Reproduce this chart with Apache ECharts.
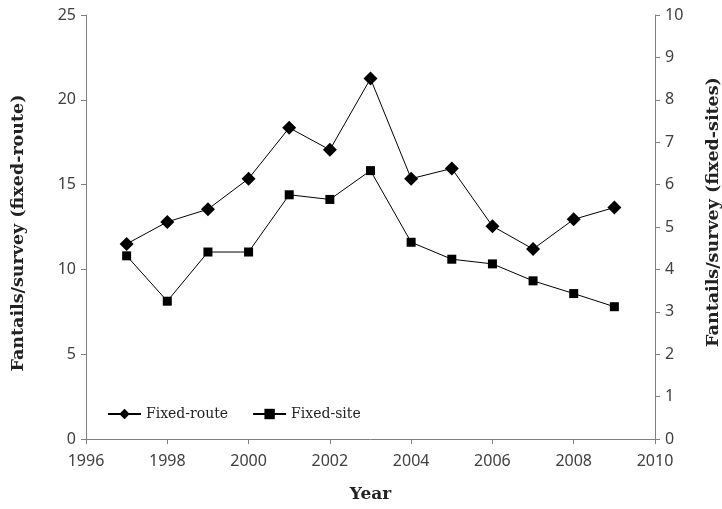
<!DOCTYPE html>
<html><head><meta charset="utf-8">
<script src="https://cdn.jsdelivr.net/npm/echarts@6/dist/echarts.min.js"></script>
<style>html,body{margin:0;padding:0;background:#fff}#c{width:722px;height:509px}</style>
</head><body><div id="c"></div>
<script>
const years = [1997,1998,1999,2000,2001,2002,2003,2004,2005,2006,2007,2008,2009];
const fixedRoute = [11.5,12.8,13.55,15.35,18.35,17.05,21.25,15.35,15.95,12.55,11.2,12.95,13.65];
const fixedSite = [4.32,3.25,4.41,4.41,5.76,5.65,6.33,4.64,4.24,4.13,3.73,3.43,3.12];
const xTicks = [1996,1998,2000,2002,2004,2006,2008,2010];
const leftTicks = [0,5,10,15,20,25];
const rightTicks = [0,1,2,3,4,5,6,7,8,9,10];

const axisLine = {show:true,lineStyle:{color:'#808080',width:1}};
const tickFont = {fontFamily:'Noto Sans',fontSize:16,color:'#404040'};
const titleBase = {fontFamily:'DejaVu Serif',fontWeight:'bold',color:'#222'};

const chart = echarts.init(document.getElementById('c'));
chart.setOption({
  animation:false,
  backgroundColor:'#fff',
  grid:{left:86,right:67,top:15,bottom:70,outerBoundsMode:'none',containLabel:false},
  legend:{
    left:102, top:402, itemWidth:33, itemHeight:13, itemGap:24,
    textStyle:{fontFamily:'DejaVu Serif',fontSize:14,color:'#222'},
    data:['Fixed-route','Fixed-site']
  },
  xAxis:{
    type:'value', min:xTicks[0], max:xTicks[xTicks.length-1], interval:2,
    name:'Year', nameLocation:'middle', nameGap:47,
    nameTextStyle:Object.assign({fontSize:17},titleBase),
    axisLine:axisLine, axisTick:{show:true,length:5,lineStyle:{color:'#808080'}},
    axisLabel:Object.assign({margin:14,formatter:v=>String(v)},tickFont),
    splitLine:{show:false}
  },
  yAxis:[{
    type:'value', min:leftTicks[0], max:leftTicks[leftTicks.length-1], interval:5, position:'left',
    name:'Fantails/survey (fixed-route)', nameLocation:'middle', nameGap:59, nameRotate:90,
    nameTextStyle:Object.assign({fontSize:17.5,padding:[0,12,0,0]},titleBase),
    axisLine:axisLine, axisTick:{show:true,length:5,lineStyle:{color:'#808080'}},
    axisLabel:Object.assign({margin:10},tickFont),
    splitLine:{show:false}
  },{
    type:'value', min:rightTicks[0], max:rightTicks[rightTicks.length-1], interval:1, position:'right',
    name:'Fantails/survey (fixed-sites)', nameLocation:'middle', nameGap:49, nameRotate:90,
    nameTextStyle:Object.assign({fontSize:17.5,padding:[0,0,0,30]},titleBase),
    axisLine:axisLine, axisTick:{show:true,length:5,lineStyle:{color:'#808080'}},
    axisLabel:Object.assign({margin:10},tickFont),
    splitLine:{show:false}
  }],
  series:[{
    name:'Fixed-route', type:'line', yAxisIndex:0,
    data:years.map((y,i)=>[y,fixedRoute[i]]),
    symbol:'diamond', symbolSize:14,
    lineStyle:{color:'#000',width:1}, itemStyle:{color:'#000'}
  },{
    name:'Fixed-site', type:'line', yAxisIndex:1,
    data:years.map((y,i)=>[y,fixedSite[i]]),
    symbol:'rect', symbolSize:9,
    lineStyle:{color:'#000',width:1}, itemStyle:{color:'#000'}
  }]
});
</script></body></html>
